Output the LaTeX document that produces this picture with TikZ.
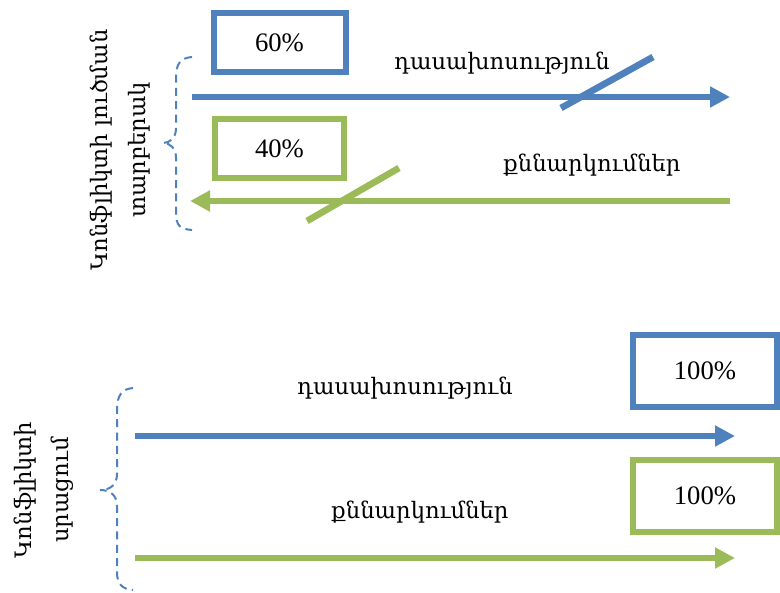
\documentclass[tikz,border=0pt]{standalone}
\usepackage{fontspec}
\setmainfont{Liberation Serif}
\newfontfamily\armfont{DejaVu Serif}
\usepackage{tikz}
\usetikzlibrary{arrows.meta,positioning}
\definecolor{offblue}{RGB}{79,129,189}
\definecolor{offgreen}{RGB}{155,187,89}

\begin{document}
\begin{tikzpicture}[x=0.75pt, y=-0.75pt,
    pctbox/.style={draw, line width=4.5pt, minimum width=99pt, minimum height=44pt, inner sep=0pt, font=\fontsize{20}{24}\selectfont},
    word/.style={font=\armfont\fontsize{17}{20}\selectfont},
    side/.style={rotate=90, align=center, font=\armfont\fontsize{17}{28}\selectfont},
    arr/.style={-{Triangle[length=15pt, width=15pt]}, line width=4.5pt},
    cut/.style={line width=5pt},
    brace/.style={draw=offblue, line width=1.5pt, dash pattern=on 6pt off 4pt}]

    \useasboundingbox (0,0) rectangle (780,592);

    % Top: resolution
    \node[side] (strat) at (120,150) {Կոնֆլիկտի լուծման\\տարբերակ};
    \path[brace] (192,57) .. controls (180,58) and (176,64) .. (176,78) -- (176,128)
        .. controls (176,138) and (170,143) .. (163,143)
        .. controls (170,143) and (176,148) .. (176,158) -- (176,212)
        .. controls (176,226) and (180,229) .. (192,230);

    \node[pctbox, draw=offblue] (p60) at (279.5,42.5) {60\%};
    \node[pctbox, draw=offgreen, minimum width=97pt] (p40) at (279.5,148.5) {40\%};
    \node[word] (lec1) at (502,63) {դասախոսություն};
    \node[word] (dis1) at (592,165) {քննարկումներ};

    \coordinate (l1a) at (192,97);
    \coordinate (l1b) at (730,97);
    \coordinate (d1a) at (730,201);
    \coordinate (d1b) at (190,201);
    \draw[arr, offblue] (l1a) -- (l1b);
    \draw[arr, offgreen] (d1a) -- (d1b);

    % Cross-outs
    \coordinate (c1a) at (561,108);
    \coordinate (c1b) at (653,57);
    \coordinate (c2a) at (307,221);
    \coordinate (c2b) at (399,168);
    \draw[cut, offblue] (c1a) -- (c1b);
    \draw[cut, offgreen] (c2a) -- (c2b);

    % Bottom: escalation
    \node[side] (esc) at (44,490) {Կոնֆլիկտի\\սրացում};
    \path[brace] (133,388) .. controls (122,389) and (117,395) .. (117,410) -- (117,474)
        .. controls (117,485) and (110,490) .. (100,490)
        .. controls (110,490) and (117,495) .. (117,506) -- (117,572)
        .. controls (117,584) and (122,589) .. (133,590);

    \node[pctbox, draw=offblue, minimum width=108pt, minimum height=54pt] (p100a) at (705,370.5) {100\%};
    \node[pctbox, draw=offgreen, minimum width=108pt, minimum height=54pt] (p100b) at (705,495.5) {100\%};
    \node[word] (lec2) at (405,388) {դասախոսություն};
    \node[word] (dis2) at (420,512) {քննարկումներ};

    \coordinate (l2a) at (135,436);
    \coordinate (l2b) at (735,436);
    \coordinate (d2a) at (135,558);
    \coordinate (d2b) at (735,558);
    \draw[arr, offblue] (l2a) -- (l2b);
    \draw[arr, offgreen] (d2a) -- (d2b);
\end{tikzpicture}
\end{document}
